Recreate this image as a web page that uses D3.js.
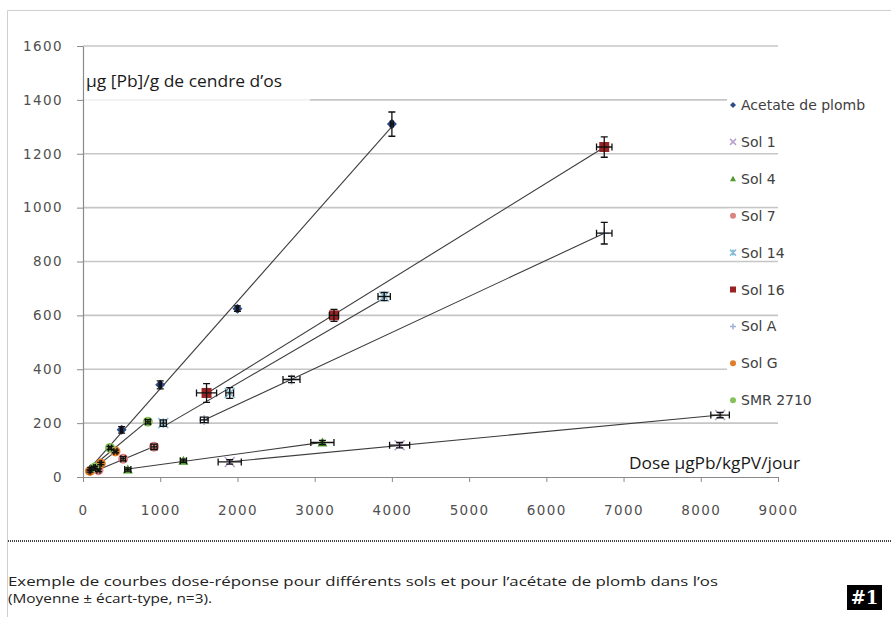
<!DOCTYPE html>
<html><head><meta charset="utf-8">
<script src="https://cdn.jsdelivr.net/npm/d3@7"></script>
<style>
html,body{margin:0;padding:0;background:#fff;}
svg{display:block;}
</style></head>
<body>
<svg id="c" width="891" height="617"></svg>
<script>
// ---- data ----
const seriesNames = ["Acetate de plomb","Sol 1","Sol 4","Sol 7","Sol 14","Sol 16","Sol A","Sol G","SMR 2710"];
const acetateX = [100, 500, 1000, 2000, 4000];
const acetateY = [30, 175, 342, 625, 1310];
const acetateEx = [10, 15, 15, 15, 20];
const acetateEy = [5, 12, 15, 10, 45];
const sol1X = [1900, 4100, 8250];
const sol1Y = [56, 118, 230];
const sol1Ex = [150, 130, 120];
const sol1Ey = [8, 10, 10];
const sol4X = [580, 1300, 3100];
const sol4Y = [28, 60, 128];
const sol4Ex = [40, 40, 150];
const sol4Ey = [6, 6, 8];
const sol7X = [200, 520, 920];
const sol7Y = [25, 68, 112];
const sol7Ex = [20, 30, 40];
const sol7Ey = [5, 8, 10];
const sol14X = [1040, 1900, 3900];
const sol14Y = [200, 312, 670];
const sol14Ex = [40, 50, 80];
const sol14Ey = [12, 20, 15];
const sol16X = [1600, 3250, 6750];
const sol16Y = [312, 600, 1225];
const sol16Ex = [130, 60, 100];
const sol16Ey = [35, 22, 38];
const solAX = [1570, 2700, 6750];
const solAY = [212, 362, 905];
const solAEx = [50, 110, 100];
const solAEy = [10, 12, 40];
const solGX = [90, 230, 420];
const solGY = [22, 50, 95];
const solGEx = [10, 10, 20];
const solGEy = [4, 4, 5];
const smrX = [150, 350, 840];
const smrY = [35, 108, 205];
const smrEx = [10, 20, 30];
const smrEy = [5, 6, 8];
const xTicks = [0,1000,2000,3000,4000,5000,6000,7000,8000,9000];
const yTicks = [0,200,400,600,800,1000,1200,1400,1600];
const yTitle = "µg [Pb]/g de cendre d’os";
const xTitle = "Dose µgPb/kgPV/jour";
const caption1 = "Exemple de courbes dose-réponse pour différents sols et pour l’acétate de plomb dans l’os";
const caption2 = "(Moyenne ± écart-type, n=3).";

const seriesData = [
  {x:acetateX,y:acetateY,ex:acetateEx,ey:acetateEy,color:"#2e4a8b",sym:"diamond"},
  {x:sol1X,y:sol1Y,ex:sol1Ex,ey:sol1Ey,color:"#b7a2cf",sym:"x"},
  {x:sol4X,y:sol4Y,ex:sol4Ex,ey:sol4Ey,color:"#4e9a2e",sym:"triangle"},
  {x:sol7X,y:sol7Y,ex:sol7Ex,ey:sol7Ey,color:"#d98480",sym:"circle"},
  {x:sol14X,y:sol14Y,ex:sol14Ex,ey:sol14Ey,color:"#86bcd6",sym:"star"},
  {x:sol16X,y:sol16Y,ex:sol16Ex,ey:sol16Ey,color:"#9b2222",sym:"square"},
  {x:solAX,y:solAY,ex:solAEx,ey:solAEy,color:"#9fb0d9",sym:"plus"},
  {x:solGX,y:solGY,ex:solGEx,ey:solGEy,color:"#e07b28",sym:"circle"},
  {x:smrX,y:smrY,ex:smrEx,ey:smrEy,color:"#86c25a",sym:"circle"}
];

// ---- layout ----
const svg = d3.select("#c");
const x = d3.scaleLinear().domain([0,9000]).range([83,778]);
const y = d3.scaleLinear().domain([0,1600]).range([477,46]);

// frame
svg.append("path").attr("d","M7.5,617V10.5H891").attr("fill","none").attr("stroke","#cfcfcf").attr("stroke-width",1);

// gridlines
svg.append("g").selectAll("line").data(yTicks.filter(d=>d>0)).join("line")
  .attr("x1",x(0)).attr("x2",x(9000)).attr("y1",d=>y(d)).attr("y2",d=>y(d))
  .attr("stroke","#c6c6c6").attr("stroke-width",1.6);

// y title background box
svg.append("rect").attr("x",84).attr("y",58).attr("width",226).attr("height",43)
  .attr("fill","#fff").attr("opacity",0.75);

// axes
const tickFont = "'DejaVu Sans', sans-serif";
const gx = svg.append("g").attr("transform",`translate(0,${y(0)})`)
  .call(d3.axisBottom(x).tickValues(xTicks).tickSize(5).tickSizeOuter(0).tickPadding(23).tickFormat(d3.format("d")));
const gy = svg.append("g").attr("transform",`translate(${x(0)},0)`)
  .call(d3.axisLeft(y).tickValues(yTicks).tickSize(6).tickSizeOuter(0).tickPadding(14).tickFormat(d3.format("d")));
[gx,gy].forEach(g=>{
  g.select(".domain").attr("stroke","#8a8a8a").attr("stroke-width",1.2);
  g.selectAll(".tick line").attr("stroke","#8a8a8a");
  g.selectAll(".tick text").attr("fill","#505050").style("font-family",tickFont).style("font-size","13.5px").style("letter-spacing","1.4px");
});

// titles
svg.append("text").attr("x",86).attr("y",87).text(yTitle)
  .attr("textLength",196).attr("lengthAdjust","spacingAndGlyphs")
  .style("font-family","'Open Sans', sans-serif").style("font-size","16px").attr("fill","#1a1a1a");
svg.append("text").attr("x",629).attr("y",469).text(xTitle)
  .attr("textLength",171).attr("lengthAdjust","spacingAndGlyphs")
  .style("font-family","'Open Sans', sans-serif").style("font-size","16px").attr("fill","#1a1a1a");

// symbols
function drawSym(g, sym, color, cx, cy, s){
  if(sym==="diamond"){
    g.append("path").attr("d",`M${cx},${cy-s}L${cx+s},${cy}L${cx},${cy+s}L${cx-s},${cy}Z`).attr("fill",color);
  } else if(sym==="square"){
    g.append("rect").attr("x",cx-s).attr("y",cy-s).attr("width",2*s).attr("height",2*s).attr("fill",color);
  } else if(sym==="circle"){
    g.append("circle").attr("cx",cx).attr("cy",cy).attr("r",s).attr("fill",color);
  } else if(sym==="triangle"){
    g.append("path").attr("d",`M${cx},${cy-s}L${cx+s},${cy+s*0.8}L${cx-s},${cy+s*0.8}Z`).attr("fill",color);
  } else if(sym==="x"){
    g.append("path").attr("d",`M${cx-s},${cy-s}L${cx+s},${cy+s}M${cx-s},${cy+s}L${cx+s},${cy-s}`).attr("stroke",color).attr("stroke-width",1.5);
  } else if(sym==="star"){
    g.append("path").attr("d",`M${cx-s},${cy-s}L${cx+s},${cy+s}M${cx-s},${cy+s}L${cx+s},${cy-s}M${cx},${cy-s}L${cx},${cy+s}`).attr("stroke",color).attr("stroke-width",1.5);
  } else if(sym==="plus"){
    g.append("path").attr("d",`M${cx-s},${cy}L${cx+s},${cy}M${cx},${cy-s}L${cx},${cy+s}`).attr("stroke",color).attr("stroke-width",1.5);
  }
}

// trend lines (least squares)
const gl = svg.append("g");
seriesData.forEach(s=>{
  const n=s.x.length, mx=d3.mean(s.x), my=d3.mean(s.y);
  let num=0,den=0;
  for(let i=0;i<n;i++){num+=(s.x[i]-mx)*(s.y[i]-my);den+=(s.x[i]-mx)**2;}
  const b=num/den, a=my-b*mx;
  const x0=d3.min(s.x), x1=d3.max(s.x);
  gl.append("line").attr("x1",x(x0)).attr("y1",y(a+b*x0)).attr("x2",x(x1)).attr("y2",y(a+b*x1))
    .attr("stroke","#3c3c3c").attr("stroke-width",1.1);
});

// markers + error bars
const gm = svg.append("g");
seriesData.forEach(s=>{
  s.x.forEach((vx,i)=>{
    const cx=x(vx), cy=y(s.y[i]);
    drawSym(gm, s.sym, s.color, cx, cy, 5);
  });
});
const ge = svg.append("g").attr("stroke","#111").attr("stroke-width",1.3);
seriesData.forEach(s=>{
  s.x.forEach((vx,i)=>{
    const cx=x(vx), cy=y(s.y[i]);
    const ylo=y(s.y[i]-s.ey[i]), yhi=y(s.y[i]+s.ey[i]);
    const xlo=x(vx-s.ex[i]), xhi=x(vx+s.ex[i]);
    ge.append("path").attr("d",`M${cx},${ylo}V${yhi}M${cx-3.5},${ylo}H${cx+3.5}M${cx-3.5},${yhi}H${cx+3.5}`);
    ge.append("path").attr("d",`M${xlo},${cy}H${xhi}M${xlo},${cy-3.5}V${cy+3.5}M${xhi},${cy-3.5}V${cy+3.5}`);
  });
});

// legend
const lg = svg.append("g");
seriesNames.forEach((name,i)=>{
  const cy = 105 + i*36.9;
  lg.append("rect").attr("x",727).attr("y",cy-7).attr("width",164).attr("height",14).attr("fill","#fff");
  drawSym(lg, seriesData[i].sym, seriesData[i].color, 733, cy, 3);
  lg.append("text").attr("x",741).attr("y",cy).attr("dy","0.36em").text(name)
    .style("font-family",tickFont).style("font-size","14px").attr("fill","#404040");
});

// caption
svg.append("line").attr("x1",8).attr("x2",891).attr("y1",541).attr("y2",541)
  .attr("stroke","#444").attr("stroke-width",2).attr("stroke-dasharray","1,1");
svg.append("text").attr("x",8).attr("y",586).text(caption1)
  .attr("textLength",710).attr("lengthAdjust","spacingAndGlyphs")
  .style("font-family","'Open Sans', sans-serif").style("font-size","13px").attr("fill","#222");
svg.append("text").attr("x",8).attr("y",603).text(caption2)
  .attr("textLength",204).attr("lengthAdjust","spacingAndGlyphs")
  .style("font-family","'Open Sans', sans-serif").style("font-size","13px").attr("fill","#222");
svg.append("rect").attr("x",847).attr("y",585).attr("width",35).attr("height",25).attr("fill","#000");
svg.append("text").attr("x",864.5).attr("y",604).attr("text-anchor","middle").text("#1")
  .style("font-family","'DejaVu Serif', serif").style("font-weight","bold").style("font-size","18px").attr("fill","#fff");
</script>
</body></html>
